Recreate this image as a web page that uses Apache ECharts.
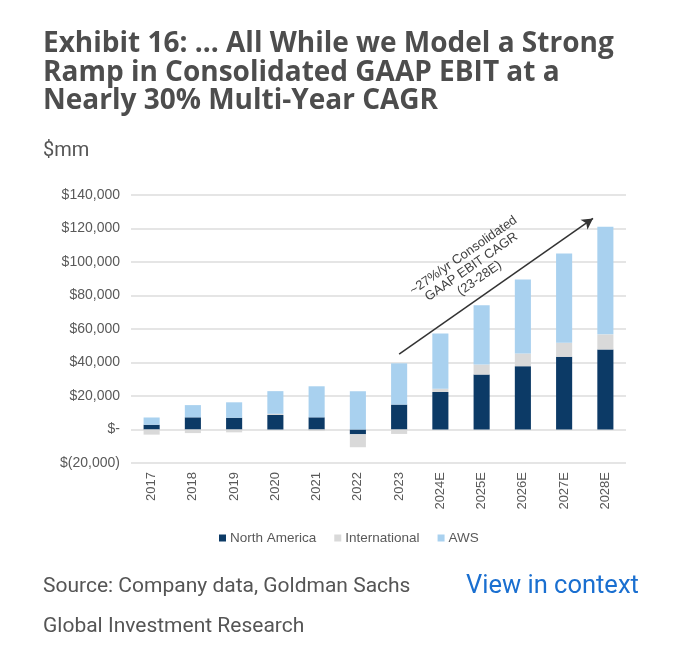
<!DOCTYPE html>
<html>
<head>
<meta charset="utf-8">
<script src="https://cdn.jsdelivr.net/npm/echarts@6/dist/echarts.min.js"></script>
<style>
html,body{margin:0;padding:0;background:#fff;}
#chart{width:680px;height:662px;}
</style>
</head>
<body>
<div id="chart"></div>
<script>
const categories = ['2017','2018','2019','2020','2021','2022','2023','2024E','2025E','2026E','2027E','2028E'];
const northAmerica = [2837, 7267, 7033, 8651, 7271, -2847, 14877, 22400, 32800, 37800, 43400, 47800];
const international = [-3062, -2142, -1693, 717, -924, -7746, -2656, 2000, 6000, 7600, 8400, 9000];
const aws = [4331, 7296, 9201, 13531, 18532, 22841, 24631, 32900, 35400, 44200, 53300, 64200];
const seriesNames = ['North America', 'International', 'AWS'];
const yMin = -20000, yMax = 140000, yStep = 20000;
const arrowStart = [6, 45000];
const arrowEnd = [10.7, 126000];
const arrowText = '~27%/yr Consolidated\nGAAP EBIT CAGR\n(23-28E)';
const titleText = 'Exhibit 16: ... All While we Model a Strong\nRamp in Consolidated GAAP EBIT at a\nNearly 30% Multi-Year CAGR';
const unitText = '$mm';
const sourceText = 'Source: Company data, Goldman Sachs\nGlobal Investment Research';
const linkText = 'View in context';

function fmtY(v) {
  if (v === 0) return '$-';
  const s = Math.abs(v).toLocaleString('en-US');
  return v < 0 ? '$(' + s + ')' : '$' + s;
}

const chart = echarts.init(document.getElementById('chart'), null, {renderer: 'canvas'});
const labelFont = 'Liberation Sans, Arial, sans-serif';
const option = {
  animation: false,
  backgroundColor: '#fff',
  title: [
    {text: titleText, left: 43, top: 30, padding: 0,
     textStyle: {fontFamily: 'Open Sans', fontWeight: 'bold', fontSize: 28, lineHeight: 28.5, color: '#4d4d4d'}},
    {text: unitText, left: 43, top: 139, padding: 0,
     textStyle: {fontFamily: 'Roboto', fontWeight: 'normal', fontSize: 20, lineHeight: 24, color: '#555'}},
    {text: sourceText, left: 43, top: 567, padding: 0,
     textStyle: {fontFamily: 'Roboto', fontWeight: 'normal', fontSize: 21, lineHeight: 40, color: '#555'}},
    {text: linkText, left: 466, top: 567, padding: 0,
     textStyle: {fontFamily: 'Roboto', fontWeight: 'normal', fontSize: 25.5, lineHeight: 40, color: '#1a6fd0'}}
  ],
  legend: {
    data: seriesNames,
    left: 214, top: 526,
    itemWidth: 7, itemHeight: 7, itemGap: 18,
    icon: 'rect',
    textStyle: {fontFamily: labelFont, fontSize: 13.5, color: '#595959', padding: [0,0,0,-1]}
  },
  grid: {left: 131, right: 54, top: 195, bottom: 199, containLabel: false},
  xAxis: [
    {type: 'category', data: categories,
     axisLine: {show: false}, axisTick: {show: false},
     axisLabel: {rotate: 90, margin: 9, fontFamily: labelFont, fontSize: 13, color: '#595959'}},
    {type: 'value', min: -0.5, max: 11.5, show: false}
  ],
  yAxis: {
    type: 'value', min: yMin, max: yMax, interval: yStep,
    axisLine: {show: false}, axisTick: {show: false},
    splitLine: {lineStyle: {color: '#dcdcdc', width: 1.5}},
    axisLabel: {formatter: fmtY, margin: 11, fontFamily: labelFont, fontSize: 14, color: '#595959'}
  },
  series: [
    {name: seriesNames[0], type: 'bar', stack: 'ebit', data: northAmerica, barWidth: '39%',
     itemStyle: {color: '#0c3a66'}},
    {name: seriesNames[1], type: 'bar', stack: 'ebit', data: international, barWidth: '39%',
     itemStyle: {color: '#d9d9d9'}},
    {name: seriesNames[2], type: 'bar', stack: 'ebit', data: aws, barWidth: '39%',
     itemStyle: {color: '#a9d1ef'}},
    {name: 'annotation', type: 'line', xAxisIndex: 1, yAxisIndex: 0, data: [], silent: true,
     markLine: {
       silent: true, symbol: ['none', 'arrow'], symbolSize: [9, 11],
       lineStyle: {color: '#333', width: 1.5, type: 'solid'},
       label: {show: true, position: 'insideMiddleTop', distance: 9, formatter: arrowText,
               fontFamily: labelFont, fontSize: 13, lineHeight: 14, color: '#404040',
               padding: [0, 18, 0, 0]},
       data: [[{coord: arrowStart}, {coord: arrowEnd}]]
     }}
  ]
};
chart.setOption(option);
</script>
</body>
</html>
